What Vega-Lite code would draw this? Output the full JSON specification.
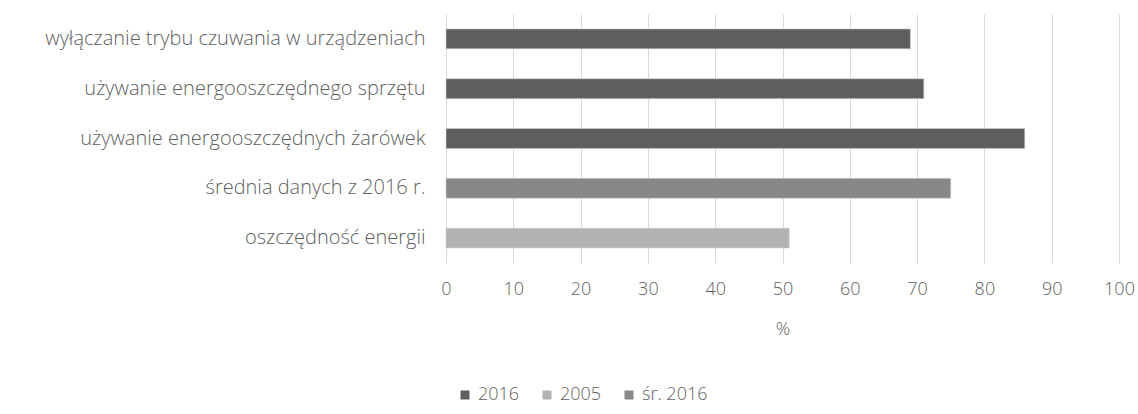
{
  "$schema": "https://vega.github.io/schema/vega-lite/v6.json",
  "width": 673,
  "height": 249,
  "autosize": "none",
  "padding": {"left": 446, "top": 14, "right": 19, "bottom": 151},
  "background": "white",
  "data": {
    "values": [
      {"kategoria": "wyłączanie trybu czuwania w urządzeniach", "seria": "2016", "wartosc": 69},
      {"kategoria": "używanie energooszczędnego sprzętu", "seria": "2016", "wartosc": 71},
      {"kategoria": "używanie energooszczędnych żarówek", "seria": "2016", "wartosc": 86},
      {"kategoria": "średnia danych z 2016 r.", "seria": "śr. 2016", "wartosc": 75},
      {"kategoria": "oszczędność energii", "seria": "2005", "wartosc": 51}
    ]
  },
  "config": {
    "view": {"stroke": null},
    "font": "Open Sans",
    "axis": {"labelColor": "#5f5f5f", "titleColor": "#5f5f5f", "labelFont": "Open Sans", "titleFont": "Open Sans", "labelFontWeight": 300, "titleFontWeight": 300},
    "legend": {"labelColor": "#5f5f5f", "labelFont": "Open Sans", "labelFontWeight": 300}
  },
  "mark": {"type": "bar", "stroke": "#d0d0d0", "strokeWidth": 0.6},
  "encoding": {
    "y": {
      "field": "kategoria",
      "type": "nominal",
      "sort": null,
      "scale": {"paddingInner": 0.6, "paddingOuter": 0.3},
      "axis": {"title": null, "ticks": false, "domain": false, "labelPadding": 21, "labelFontSize": 20, "labelLimit": 500}
    },
    "x": {
      "field": "wartosc",
      "type": "quantitative",
      "scale": {"domain": [0, 100]},
      "axis": {"title": "%", "titleFontSize": 18, "titlePadding": 22, "ticks": false, "domain": false, "gridColor": "#d9d9d9", "labelFontSize": 18, "labelPadding": 17, "labelOverlap": false, "labelFlush": false, "values": [0,10,20,30,40,50,60,70,80,90,100]}
    },
    "color": {
      "field": "seria",
      "type": "nominal",
      "scale": {"domain": ["2016", "2005", "śr. 2016"], "range": ["#5e5e5e", "#b2b2b2", "#888888"]},
      "legend": {"title": null, "orient": "none", "direction": "horizontal", "legendX": 10, "legendY": 372, "symbolType": "square", "symbolSize": 81, "symbolStrokeWidth": 0, "labelFontSize": 18, "columnPadding": 18, "symbolOffset": 0, "labelOffset": 4}
    }
  }
}
